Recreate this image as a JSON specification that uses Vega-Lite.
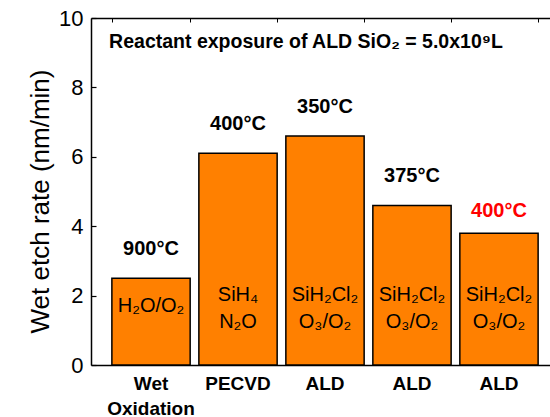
{
  "$schema": "https://vega.github.io/schema/vega-lite/v6.json",
  "width": 459,
  "height": 347,
  "autosize": {"type": "none"},
  "padding": {"left": 91, "top": 18, "right": 0, "bottom": 52},
  "background": "white",
  "config": {"view": {"stroke": null}, "font": "Liberation Sans"},
  "data": {
    "values": [
      {"id": "Wet Oxidation", "rate": 2.5, "temp": "900°C", "gas": "H₂O/O₂", "hi": false},
      {"id": "PECVD", "rate": 6.1, "temp": "400°C", "gas": "SiH₄\nN₂O", "hi": false},
      {"id": "ALD 350", "rate": 6.6, "temp": "350°C", "gas": "SiH₂Cl₂\nO₃/O₂", "hi": false},
      {"id": "ALD 375", "rate": 4.6, "temp": "375°C", "gas": "SiH₂Cl₂\nO₃/O₂", "hi": false},
      {"id": "ALD 400", "rate": 3.8, "temp": "400°C", "gas": "SiH₂Cl₂\nO₃/O₂", "hi": true}
    ]
  },
  "layer": [
    {
      "mark": {"type": "bar", "fill": "#FF8000", "stroke": "black", "strokeWidth": 1.5},
      "encoding": {
        "x": {
          "field": "id", "type": "nominal", "sort": null,
          "scale": {"range": [0, 468], "paddingInner": 0.1, "paddingOuter": 0.24},
          "axis": {
            "orient": "bottom", "title": null, "labelAngle": 0,
            "labelExpr": "datum.value == 'Wet Oxidation' ? ['Wet', 'Oxidation'] : split(datum.value, ' ')[0]",
            "labelFontSize": 19, "labelFontWeight": "bold", "labelColor": "black",
            "labelBaseline": "middle", "labelLineHeight": 25, "labelPadding": 18,
            "ticks": false, "domainColor": "black", "domainWidth": 1.5
          }
        },
        "y": {
          "field": "rate", "type": "quantitative",
          "scale": {"domain": [0, 10], "nice": false},
          "axis": {
            "values": [0, 1, 2, 3, 4, 5, 6, 7, 8, 9, 10],
            "labelExpr": "datum.value % 2 === 0 ? datum.label : ''",
            "title": "Wet etch rate (nm/min)", "titleFontSize": 26, "titleFontWeight": "normal",
            "titleColor": "black", "titlePadding": 5, "titleY": 183,
            "labelFontSize": 22, "labelColor": "black", "labelPadding": 13,
            "tickSize": -5, "tickColor": "black", "tickWidth": 1.2,
            "grid": false, "domainColor": "black", "domainWidth": 1.5
          }
        }
      }
    },
    {
      "transform": [{"filter": "indexof(datum.gas, '\\n') >= 0"}],
      "mark": {"type": "text", "fontSize": 20, "lineBreak": "\n", "baseline": "middle", "lineHeight": 27, "color": "black"},
      "encoding": {
        "x": {"field": "id", "type": "nominal", "sort": null, "axis": null},
        "y": {"datum": 2.02},
        "text": {"field": "gas"}
      }
    },
    {
      "transform": [{"filter": "indexof(datum.gas, '\\n') < 0"}],
      "mark": {"type": "text", "fontSize": 20, "baseline": "middle", "color": "black"},
      "encoding": {
        "x": {"field": "id", "type": "nominal", "sort": null, "axis": null},
        "y": {"datum": 1.7},
        "text": {"field": "gas"}
      }
    },
    {
      "transform": [{"filter": "!datum.hi"}],
      "mark": {"type": "text", "fontSize": 20, "fontWeight": "bold", "baseline": "alphabetic", "dy": -23, "color": "black"},
      "encoding": {
        "x": {"field": "id", "type": "nominal", "sort": null, "axis": null},
        "y": {"field": "rate", "type": "quantitative"},
        "text": {"field": "temp"}
      }
    },
    {
      "transform": [{"filter": "datum.hi"}],
      "mark": {"type": "text", "fontSize": 20, "fontWeight": "bold", "baseline": "alphabetic", "dy": -16, "color": "#FF0000"},
      "encoding": {
        "x": {"field": "id", "type": "nominal", "sort": null, "axis": null},
        "y": {"field": "rate", "type": "quantitative"},
        "text": {"field": "temp"}
      }
    },
    {
      "data": {"values": [{"note": "Reactant exposure of ALD SiO₂ = 5.0x10⁹L"}]},
      "mark": {"type": "text", "fontSize": 19.5, "fontWeight": "bold", "baseline": "middle", "dx": -19, "color": "black"},
      "encoding": {
        "x": {
          "datum": "ALD 350", "type": "nominal",
          "axis": {"orient": "top", "labels": false, "title": null, "tickSize": -4, "tickColor": "black", "tickBand": "extent", "domainColor": "black", "domainWidth": 1.5}
        },
        "y": {"datum": 9.3, "type": "quantitative"},
        "text": {"field": "note"}
      }
    }
  ],
  "resolve": {"axis": {"x": "independent"}}
}
